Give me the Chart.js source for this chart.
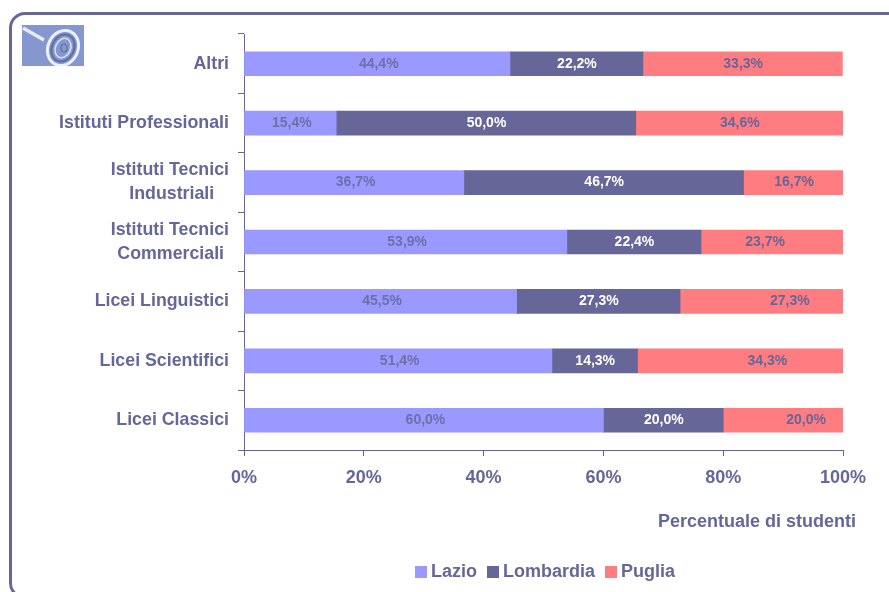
<!DOCTYPE html>
<html><head><meta charset="utf-8">
<script src="https://cdn.jsdelivr.net/npm/chart.js@4"></script>
<style>
html,body{margin:0;padding:0;background:#fff;overflow:hidden;width:889px;height:592px}
#wrap{position:relative;width:889px;height:592px;overflow:hidden}
#frame{position:absolute;left:9px;top:12px;width:1000px;height:581px;border:3px solid #666699;border-radius:16px;box-sizing:content-box}
canvas{position:absolute;left:0;top:0}
#logo{position:absolute;left:22px;top:25px;width:62px;height:41px;background:#8497cf}
</style></head><body>
<div id="wrap">
<div id="frame"></div>
<svg id="logo" viewBox="0 0 62 41">
<line x1="1" y1="3" x2="22" y2="15" stroke="#e8ebf4" stroke-width="3.5"/>
<ellipse cx="41" cy="23" rx="15" ry="18" transform="rotate(25 41 23)" fill="none" stroke="#eef0f7" stroke-width="3"/>
<ellipse cx="41" cy="23" rx="11" ry="14" transform="rotate(25 41 23)" fill="none" stroke="#5f6f9f" stroke-width="2"/>
<ellipse cx="41" cy="23" rx="7.5" ry="10" transform="rotate(25 41 23)" fill="none" stroke="#dfe4f0" stroke-width="1.5"/>
<ellipse cx="42" cy="23" rx="3" ry="4" fill="none" stroke="#5f6f9f" stroke-width="1.2"/>
</svg>
<canvas id="c" width="889" height="592"></canvas>
</div>
<script>
const categories = ["Altri","Istituti Professionali",["Istituti Tecnici","Industriali   "],["Istituti Tecnici","Commerciali "],"Licei Linguistici","Licei Scientifici","Licei Classici"];
const lazio = [44.4,15.4,36.7,53.9,45.5,51.4,60.0];
const lombardia = [22.2,50.0,46.7,22.4,27.3,14.3,20.0];
const puglia = [33.3,34.6,16.7,23.7,27.3,34.3,20.0];
const seriesNames = ["Lazio","Lombardia","Puglia"];
const axisTitle = "Percentuale di studenti";

const INK = "#666699";
const FONT = "'Liberation Sans', Arial, sans-serif";
const labelShift = {"2:3":-7,"2:4":28,"2:5":27,"2:6":23};

function swatch(color){
  const c = document.createElement("canvas");
  c.width = 12; c.height = 12;
  const g = c.getContext("2d");
  g.fillStyle = color; g.fillRect(0,0,12,12);
  return c;
}
const barLabels = {
  id:"barLabels",
  afterDatasetsDraw(chart){
    const ctx = chart.ctx;
    ctx.save();
    ctx.font = "bold 14px "+FONT;
    ctx.textAlign = "center";
    ctx.textBaseline = "middle";
    chart.data.datasets.forEach((ds,d)=>{
      chart.getDatasetMeta(d).data.forEach((bar,i)=>{
        const txt = ds.data[i].toFixed(1).replace(".",",")+"%";
        ctx.fillStyle = d===1 ? "#ffffff" : (d===0 ? "#6f6fa8" : INK);
        const shift = labelShift[d+":"+i] || (d===0 ? 1.5 : 0.5);
        ctx.fillText(txt,(bar.base+bar.x)/2+shift,bar.y);
      });
    });
    ctx.restore();
  }
};
const xTitle = {
  id:"xTitle",
  afterDraw(chart){
    const ctx = chart.ctx, s = chart.scales.x;
    ctx.save();
    ctx.font = "bold 18px "+FONT;
    ctx.fillStyle = INK;
    ctx.textAlign = "right";
    ctx.textBaseline = "middle";
    ctx.fillText(axisTitle,s.right+13,s.top+72);
    ctx.restore();
  }
};
const legendNudge = {
  id:"legendNudge",
  afterLayout(chart){ chart.legend.left += 4; chart.legend.right += 4; }
};
const colors = ["#9999FF","#666699","#FF7C80"];
new Chart(document.getElementById("c"),{
  type:"bar",
  data:{labels:categories,datasets:[
    {label:seriesNames[0],data:lazio,backgroundColor:colors[0],barThickness:24},
    {label:seriesNames[1],data:lombardia,backgroundColor:colors[1],barThickness:24},
    {label:seriesNames[2],data:puglia,backgroundColor:colors[2],barThickness:24}
  ]},
  options:{
    indexAxis:"y",responsive:false,animation:false,
    layout:{padding:{left:0,top:34,right:46,bottom:1}},
    scales:{
      x:{stacked:true,min:0,max:100,
        afterFit(s){s.height=98;},
        ticks:{stepSize:20,maxRotation:0,padding:11,color:INK,font:{family:FONT,size:18,weight:"bold"},callback:v=>v+"%"},
        grid:{drawOnChartArea:false,color:INK,tickLength:6,tickWidth:1},
        border:{color:INK,width:1}},
      y:{stacked:true,
        afterFit(s){s.width=244;},
        ticks:{padding:9,color:INK,font:{family:FONT,size:17.8,weight:"bold",lineHeight:1.35},autoSkip:false},
        grid:{drawOnChartArea:false,color:INK,tickLength:6,tickWidth:1},
        border:{color:INK,width:1}}
    },
    plugins:{
      tooltip:{enabled:false},
      legend:{position:"bottom",fullSize:false,
        labels:{usePointStyle:true,pointStyleWidth:2,boxHeight:12,padding:15,color:INK,font:{family:FONT,size:18,weight:"bold"},
          generateLabels(chart){
            return chart.data.datasets.map((ds,i)=>({text:ds.label,fontColor:INK,fillStyle:colors[i],strokeStyle:colors[i],lineWidth:0,pointStyle:swatch(colors[i]),datasetIndex:i,hidden:false}));
          }}}
    }
  },
  plugins:[barLabels,xTitle,legendNudge]
});
</script>
</body></html>
